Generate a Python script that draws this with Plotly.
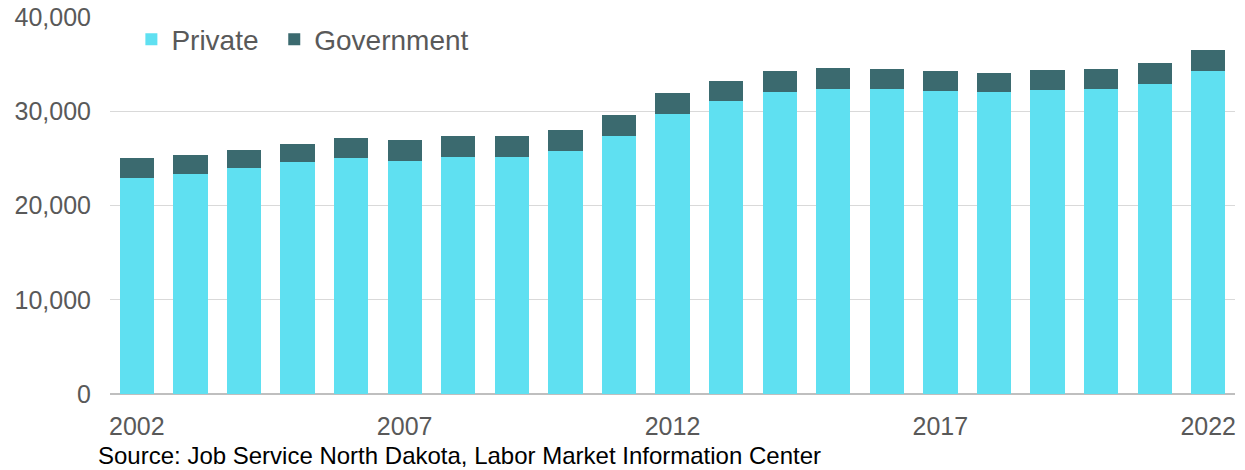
import plotly.graph_objects as go

years = list(range(2002, 2023))
private = [22920, 23340, 23980, 24620, 25040, 24720, 25150, 25150, 25780, 27370,
           29680, 31060, 32010, 32390, 32330, 32120, 32010, 32290, 32360, 32890, 34300]
government = [2120, 2020, 1910, 1910, 2120, 2230, 2220, 2220, 2230, 2230,
              2220, 2180, 2230, 2200, 2120, 2150, 2080, 2120, 2160, 2200, 2200]
x_tick_vals = [2002, 2007, 2012, 2017, 2022]
y_tick_vals = [0, 10000, 20000, 30000, 40000]
source_text = "Source: Job Service North Dakota, Labor Market Information Center"

fig = go.Figure()
fig.add_trace(go.Bar(x=years, y=private, name="Private", marker_color="#5fe0f1",
                     marker_line_width=0, legend="legend"))
fig.add_trace(go.Bar(x=years, y=government, name="Government", marker_color="#3b6a6f",
                     marker_line_width=0, legend="legend2"))

leg_common = dict(orientation="h", yanchor="middle", y=0.94, xanchor="left",
                  font=dict(size=28, color="#595959"), bgcolor="rgba(0,0,0,0)")
fig.update_layout(
    barmode="stack",
    bargap=0.36,
    width=1245, height=470,
    margin=dict(l=110, r=10, t=17, b=76, autoexpand=False),
    plot_bgcolor="white", paper_bgcolor="white",
    font=dict(family="Liberation Sans, Arial, sans-serif", color="#595959"),
    legend=dict(x=0.019, **leg_common),
    legend2=dict(x=0.146, **leg_common),
    showlegend=True,
)
fig.update_xaxes(range=[2001.5, 2022.5], tickvals=x_tick_vals, showgrid=False,
                 tickfont=dict(size=25, color="#595959"), ticklabelstandoff=15,
                 showline=False, zeroline=False, automargin=False)
fig.update_yaxes(range=[0, 40000], tickvals=y_tick_vals, tickformat=",",
                 gridcolor="#d9d9d9", gridwidth=1, zeroline=True, zerolinecolor="#bfbfbf",
                 zerolinewidth=1.5, tickfont=dict(size=25, color="#595959"),
                 ticklabelstandoff=18, automargin=False)
fig.add_annotation(text=source_text, xref="paper", yref="paper", x=-0.0124, y=-0.162,
                   xanchor="left", yanchor="middle", showarrow=False,
                   font=dict(size=24, color="black"))

fig.write_html("out.html")
